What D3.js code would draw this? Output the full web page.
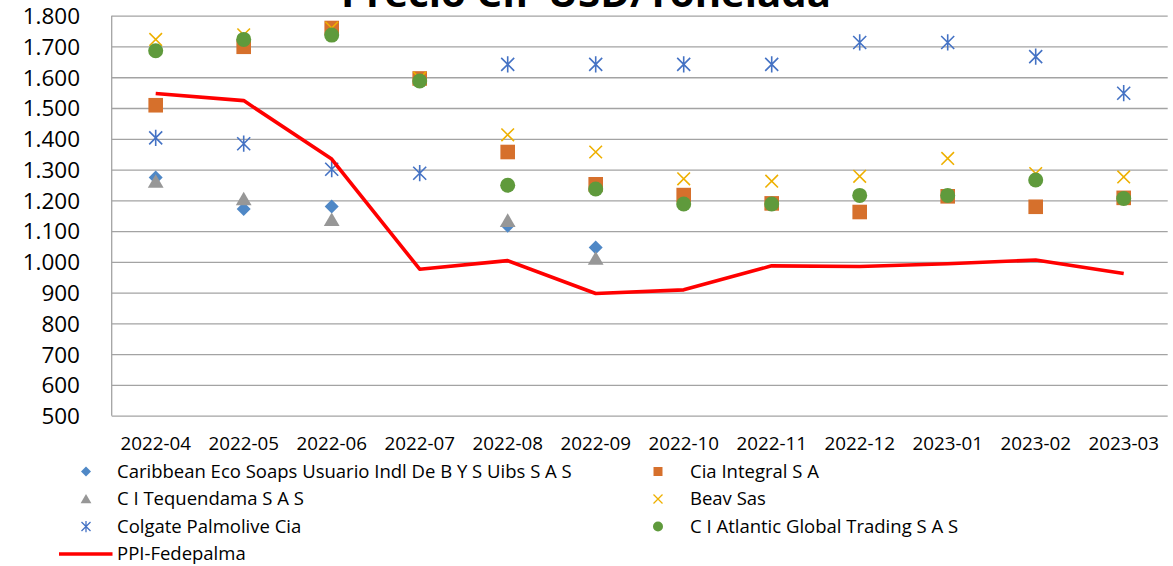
<!DOCTYPE html>
<html><head><meta charset="utf-8">
<script src="https://cdn.jsdelivr.net/npm/d3@7"></script>
<style>body{margin:0;background:#fff}svg{display:block}</style>
</head><body><svg id="c" width="1173" height="566"></svg>
<script>
const categories = ["2022-04","2022-05","2022-06","2022-07","2022-08","2022-09","2022-10","2022-11","2022-12","2023-01","2023-02","2023-03"];
const caribbean  = [1274, 1172, 1180, null, 1117, 1047, null, null, null, null, null, null];
const ciaIntegral= [1509, 1699, 1760, 1596, 1357, 1252, 1217, 1190, 1162, 1213, 1179, 1208];
const tequendama = [1261, 1204, 1137, null, 1134, 1011, null, null, null, null, null, null];
const beav       = [1723, 1738, 1760, 1597, 1413, 1357, 1270, 1262, 1278, 1336, 1287, 1276];
const colgate    = [1403, 1384, 1301, 1288, 1642, 1642, 1642, 1642, 1713, 1713, 1667, 1548];
const atlantic   = [1686, 1723, 1737, 1588, 1249, 1237, 1188, 1188, 1216, 1216, 1266, 1206];
const ppi        = [1547, 1524, 1334, 976, 1004, 897, 909, 987, 985, 994, 1006, 962];
const yTicks = [500,600,700,800,900,1000,1100,1200,1300,1400,1500,1600,1700,1800];
const seriesNames = ["Caribbean Eco Soaps Usuario Indl De B Y S Uibs S A S","Cia Integral S A","C I Tequendama S A S","Beav Sas","Colgate Palmolive Cia","C I Atlantic Global Trading S A S","PPI-Fedepalma"];
const title = "Precio CIF USD/Tonelada";

const svg = d3.select("#c");
const FONT = "'Open Sans', sans-serif";
const x = d3.scaleBand().domain(categories).range([111.7, 1167.7]).padding(0);
const y = d3.scaleLinear().domain([500, 1800]).range([415.7, 15.7]);
const loc = d3.formatLocale({decimal: ",", thousands: ".", grouping: [3], currency: ["$", ""]});
const fmt = loc.format(",d");

// gridlines
const gy = d3.axisLeft(y).tickValues(yTicks).tickSize(-(1167.7-111.7)).tickFormat("");
const g = svg.append("g").attr("transform", "translate(111.7,0)").call(gy);
g.select(".domain").remove();
g.selectAll(".tick line").attr("stroke", "#a3a3a3").attr("stroke-width", 1.3);
// left axis line
svg.append("line").attr("x1", 111.7).attr("x2", 111.7).attr("y1", y(1800)).attr("y2", y(500))
  .attr("stroke", "#a3a3a3").attr("stroke-width", 1.3);

// y labels
const yl = d3.axisLeft(y).tickValues(yTicks).tickSize(0).tickPadding(0).tickFormat(fmt);
const yg = svg.append("g").attr("transform", "translate(80,0)").call(yl);
yg.select(".domain").remove();
yg.selectAll("text").attr("font-family", FONT).attr("font-size", 22.5).attr("fill", "#000").attr("dy", "0.35em");

// x labels
const xl = d3.axisBottom(x).tickSize(0).tickPadding(0);
const xg = svg.append("g").attr("transform", "translate(0,443.5)").call(xl);
xg.select(".domain").remove();
xg.selectAll("text").attr("font-family", FONT).attr("font-size", 18.8).attr("fill", "#000").attr("dy", "0.35em");

// title
svg.append("text").attr("x", 586).attr("y", 7).attr("text-anchor", "middle")
  .attr("font-family", FONT).attr("font-weight", "bold").attr("font-size", 38)
  .attr("textLength", 490).attr("lengthAdjust", "spacingAndGlyphs").text(title);

// marker path generators
function mk(type, s) {
  const r = s;
  switch (type) {
    case "diamond": return `M0,${-r}L${r},0L0,${r}L${-r},0Z`;
    case "square": return `M${-r},${-r}H${r}V${r}H${-r}Z`;
    case "triangle": return `M0,${-r}L${r*1.08},${r*0.86}L${-r*1.08},${r*0.86}Z`;
    case "x": return `M${-r},${-r}L${r},${r}M${r},${-r}L${-r},${r}`;
    case "star": return `M${-r},${-r}L${r},${r}M${r},${-r}L${-r},${r}M0,${-r*1.25}V${r*1.25}`;
  }
}
const series = [
  {name: seriesNames[0], data: caribbean, type: "diamond", color: "#4f88c6", size: 7, lsize: 5},
  {name: seriesNames[1], data: ciaIntegral, type: "square", color: "#d6702c", size: 7.3, lsize: 4.5},
  {name: seriesNames[2], data: tequendama, type: "triangle", color: "#979797", size: 7.3, lsize: 5},
  {name: seriesNames[3], data: beav, type: "x", color: "#eeb000", size: 6.3, lsize: 4.5},
  {name: seriesNames[4], data: colgate, type: "star", color: "#4472c4", size: 6.5, lsize: 4.5},
  {name: seriesNames[5], data: atlantic, type: "circle", color: "#5f9a3c", size: 7.5, lsize: 5}
];

series.forEach(s => {
  const pts = categories.map((c, i) => ({c, v: s.data[i]})).filter(d => d.v != null);
  const gg = svg.append("g");
  pts.forEach(d => {
    const cx = x(d.c) + x.bandwidth()/2, cy = y(d.v);
    if (s.type === "circle") {
      gg.append("circle").attr("cx", cx).attr("cy", cy).attr("r", s.size).attr("fill", s.color);
    } else if (s.type === "x" || s.type === "star") {
      gg.append("path").attr("transform", `translate(${cx},${cy})`).attr("d", mk(s.type, s.size))
        .attr("fill", "none").attr("stroke", s.color).attr("stroke-width", 1.6);
    } else {
      gg.append("path").attr("transform", `translate(${cx},${cy})`).attr("d", mk(s.type, s.size)).attr("fill", s.color);
    }
  });
});

// PPI line
const line = d3.line().x((d, i) => x(categories[i]) + x.bandwidth()/2).y(d => y(d));
svg.append("path").datum(ppi).attr("d", line).attr("fill", "none")
  .attr("stroke", "#ff0000").attr("stroke-width", 3.6).attr("stroke-linejoin", "round");

// legend
const rows = [471.5, 499, 526.5, 554];
const cols = [{m: 86, t: 117}, {m: 658, t: 690}];
series.forEach((s, i) => {
  const col = cols[i % 2], ry = rows[Math.floor(i / 2)];
  if (s.type === "circle") {
    svg.append("circle").attr("cx", col.m).attr("cy", ry).attr("r", s.lsize).attr("fill", s.color);
  } else if (s.type === "x" || s.type === "star") {
    svg.append("path").attr("transform", `translate(${col.m},${ry})`).attr("d", mk(s.type, s.lsize))
      .attr("fill", "none").attr("stroke", s.color).attr("stroke-width", 1.3);
  } else {
    svg.append("path").attr("transform", `translate(${col.m},${ry})`).attr("d", mk(s.type, s.lsize)).attr("fill", s.color);
  }
  svg.append("text").attr("x", col.t).attr("y", ry).attr("dy", "0.35em")
    .attr("font-family", FONT).attr("font-size", 18.5).attr("fill", "#000").text(s.name);
});
svg.append("line").attr("x1", 59).attr("x2", 112.5).attr("y1", rows[3]).attr("y2", rows[3])
  .attr("stroke", "#ff0000").attr("stroke-width", 3.6);
svg.append("text").attr("x", 117).attr("y", rows[3]).attr("dy", "0.35em")
  .attr("font-family", FONT).attr("font-size", 18.5).attr("fill", "#000").text(seriesNames[6]);
</script></body></html>
